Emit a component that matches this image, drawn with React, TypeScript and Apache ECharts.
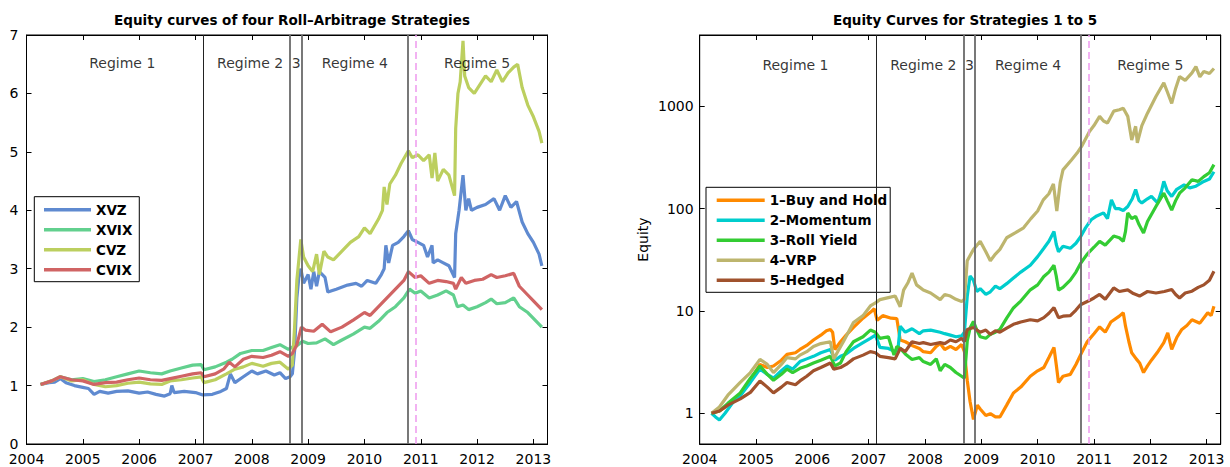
import React, { useEffect, useRef } from 'react';
import * as echarts from 'echarts';

// ---------- Left chart data: [year, equity] ----------
const xvzData: [number, number][] = [[2004.25,1.02],[2004.4,1.05],[2004.5,1.06],[2004.6,1.12],[2004.7,1.05],[2004.85,1.0],[2005.0,0.97],[2005.1,0.95],[2005.2,0.85],[2005.3,0.9],[2005.45,0.87],[2005.6,0.9],[2005.8,0.91],[2006.0,0.87],[2006.15,0.89],[2006.3,0.85],[2006.45,0.82],[2006.55,0.86],[2006.58,1.0],[2006.62,0.88],[2006.8,0.9],[2007.0,0.88],[2007.13,0.84],[2007.3,0.85],[2007.45,0.9],[2007.55,0.95],[2007.62,1.2],[2007.7,1.05],[2007.85,1.15],[2008.0,1.25],[2008.1,1.2],[2008.25,1.25],[2008.4,1.18],[2008.5,1.22],[2008.6,1.12],[2008.68,1.15],[2008.72,1.2],[2008.76,1.6],[2008.8,2.5],[2008.84,2.9],[2008.87,3.0],[2008.92,2.75],[2009.0,2.9],[2009.05,2.65],[2009.1,2.95],[2009.15,2.7],[2009.2,2.95],[2009.3,2.85],[2009.35,2.6],[2009.5,2.65],[2009.7,2.72],[2009.85,2.75],[2009.95,2.7],[2010.05,2.8],[2010.2,2.75],[2010.3,2.9],[2010.35,3.0],[2010.38,3.4],[2010.43,3.1],[2010.5,3.4],[2010.6,3.45],[2010.7,3.55],[2010.78,3.65],[2010.85,3.5],[2010.95,3.45],[2011.05,3.4],[2011.12,3.2],[2011.2,3.4],[2011.22,3.1],[2011.3,3.15],[2011.4,3.1],[2011.5,3.05],[2011.6,2.85],[2011.62,3.6],[2011.68,4.0],[2011.75,4.6],[2011.8,4.0],[2011.85,4.2],[2011.9,4.0],[2012.0,4.05],[2012.15,4.1],[2012.3,4.2],[2012.4,4.0],[2012.5,4.25],[2012.6,4.05],[2012.7,4.15],[2012.8,3.8],[2012.9,3.6],[2013.0,3.45],[2013.1,3.25],[2013.15,3.05]];

const xvixData: [number, number][] = [[2004.25,1.02],[2004.45,1.08],[2004.6,1.15],[2004.8,1.1],[2005.0,1.12],[2005.2,1.07],[2005.4,1.1],[2005.6,1.15],[2005.8,1.2],[2006.0,1.25],[2006.2,1.22],[2006.4,1.2],[2006.55,1.25],[2006.75,1.3],[2006.95,1.35],[2007.1,1.36],[2007.15,1.27],[2007.35,1.32],[2007.55,1.4],[2007.65,1.45],[2007.8,1.55],[2008.0,1.6],[2008.2,1.6],[2008.35,1.65],[2008.5,1.7],[2008.65,1.62],[2008.72,1.66],[2008.8,1.68],[2008.9,1.76],[2009.0,1.72],[2009.15,1.73],[2009.3,1.8],[2009.45,1.7],[2009.6,1.78],[2009.8,1.88],[2010.0,2.0],[2010.1,1.98],[2010.25,2.1],[2010.4,2.25],[2010.55,2.35],[2010.7,2.5],[2010.8,2.65],[2010.9,2.58],[2011.0,2.62],[2011.15,2.5],[2011.3,2.55],[2011.45,2.62],[2011.58,2.55],[2011.65,2.35],[2011.75,2.38],[2011.85,2.3],[2012.0,2.35],[2012.15,2.42],[2012.25,2.48],[2012.35,2.4],[2012.5,2.42],[2012.65,2.5],[2012.75,2.35],[2012.9,2.25],[2013.0,2.15],[2013.15,2.0]];

const cvzData: [number, number][] = [[2004.25,1.02],[2004.45,1.08],[2004.6,1.15],[2004.8,1.08],[2005.0,1.1],[2005.2,1.02],[2005.4,0.98],[2005.6,1.0],[2005.8,1.04],[2006.0,1.06],[2006.2,1.03],[2006.4,1.02],[2006.55,1.08],[2006.75,1.1],[2006.95,1.13],[2007.1,1.15],[2007.15,1.05],[2007.35,1.1],[2007.55,1.2],[2007.7,1.28],[2007.85,1.32],[2008.0,1.38],[2008.2,1.33],[2008.35,1.38],[2008.5,1.4],[2008.65,1.28],[2008.72,1.35],[2008.76,2.0],[2008.8,2.8],[2008.84,3.2],[2008.87,3.5],[2008.92,3.2],[2009.0,3.05],[2009.08,2.95],[2009.15,3.25],[2009.2,2.9],[2009.28,3.3],[2009.35,3.2],[2009.45,3.15],[2009.6,3.3],[2009.75,3.45],[2009.9,3.55],[2010.0,3.7],[2010.1,3.6],[2010.25,3.85],[2010.32,4.0],[2010.35,4.4],[2010.4,4.1],[2010.45,4.45],[2010.55,4.6],[2010.65,4.8],[2010.78,5.02],[2010.85,4.9],[2010.95,4.95],[2011.05,4.85],[2011.15,4.95],[2011.2,4.55],[2011.25,4.98],[2011.3,4.5],[2011.4,4.7],[2011.5,4.6],[2011.6,4.25],[2011.62,5.4],[2011.66,6.0],[2011.7,6.2],[2011.75,6.9],[2011.78,6.3],[2011.85,6.1],[2011.95,6.0],[2012.05,6.15],[2012.15,6.3],[2012.25,6.2],[2012.35,6.4],[2012.45,6.2],[2012.55,6.35],[2012.65,6.45],[2012.72,6.5],[2012.8,6.1],[2012.9,5.8],[2013.0,5.6],[2013.1,5.35],[2013.15,5.15]];

const cvixData: [number, number][] = [[2004.25,1.02],[2004.45,1.08],[2004.6,1.15],[2004.8,1.1],[2005.0,1.08],[2005.2,1.02],[2005.4,1.05],[2005.6,1.06],[2005.8,1.1],[2006.0,1.13],[2006.2,1.1],[2006.4,1.09],[2006.55,1.12],[2006.75,1.16],[2006.95,1.2],[2007.1,1.22],[2007.15,1.15],[2007.35,1.2],[2007.5,1.28],[2007.6,1.4],[2007.7,1.32],[2007.85,1.45],[2008.0,1.5],[2008.2,1.48],[2008.35,1.52],[2008.5,1.58],[2008.65,1.5],[2008.72,1.55],[2008.8,1.7],[2008.88,2.0],[2008.95,1.95],[2009.1,1.93],[2009.25,2.05],[2009.4,1.92],[2009.6,2.0],[2009.8,2.12],[2010.0,2.25],[2010.1,2.2],[2010.25,2.35],[2010.4,2.5],[2010.55,2.65],[2010.7,2.8],[2010.78,2.95],[2010.9,2.85],[2011.0,2.88],[2011.15,2.75],[2011.3,2.8],[2011.45,2.78],[2011.58,2.75],[2011.62,2.65],[2011.72,2.85],[2011.8,2.75],[2011.95,2.8],[2012.1,2.82],[2012.25,2.9],[2012.35,2.85],[2012.5,2.88],[2012.65,2.92],[2012.75,2.7],[2012.9,2.55],[2013.0,2.45],[2013.15,2.3]];

// ---------- Right chart data: [year, equity] ----------
const buyHoldData: [number, number][] = [[2004.21,1.0],[2004.35,1.05],[2004.5,1.2],[2004.72,1.5],[2004.9,2.1],[2005.07,3.0],[2005.2,2.8],[2005.31,2.9],[2005.45,3.3],[2005.55,3.76],[2005.7,3.9],[2005.78,4.2],[2005.9,4.6],[2006.02,5.2],[2006.15,5.8],[2006.25,6.4],[2006.32,6.6],[2006.36,6.2],[2006.4,4.2],[2006.5,5.0],[2006.6,5.8],[2006.73,6.9],[2006.9,8.5],[2007.03,9.7],[2007.1,10.5],[2007.15,8.1],[2007.25,9.0],[2007.4,8.5],[2007.5,8.4],[2007.56,5.2],[2007.65,5.0],[2007.77,4.6],[2007.9,4.3],[2007.97,4.0],[2008.1,3.9],[2008.2,4.5],[2008.27,4.8],[2008.35,4.2],[2008.45,4.5],[2008.55,4.2],[2008.65,4.7],[2008.7,4.0],[2008.75,2.1],[2008.8,1.3],[2008.86,0.87],[2008.93,1.2],[2008.98,1.1],[2009.08,0.95],[2009.16,0.99],[2009.25,0.92],[2009.33,0.92],[2009.45,1.2],[2009.57,1.58],[2009.7,1.8],[2009.87,2.3],[2010.0,2.6],[2010.11,2.8],[2010.2,3.5],[2010.29,4.4],[2010.33,3.0],[2010.37,2.0],[2010.45,2.3],[2010.58,2.4],[2010.68,3.0],[2010.76,3.7],[2010.88,5.0],[2011.0,6.0],[2011.1,7.0],[2011.2,6.2],[2011.3,7.8],[2011.45,8.9],[2011.52,9.6],[2011.56,7.1],[2011.62,5.0],[2011.67,3.9],[2011.75,3.4],[2011.81,3.1],[2011.88,2.5],[2011.95,2.9],[2012.02,3.3],[2012.12,3.9],[2012.24,4.9],[2012.31,6.1],[2012.38,4.2],[2012.47,5.5],[2012.56,6.6],[2012.65,7.2],[2012.74,8.2],[2012.88,7.6],[2013.02,9.6],[2013.08,9.0],[2013.13,11.1]];

const momentumData: [number, number][] = [[2004.21,1.0],[2004.28,0.92],[2004.35,0.86],[2004.45,1.0],[2004.6,1.3],[2004.72,1.48],[2004.9,2.0],[2005.07,2.7],[2005.2,2.4],[2005.31,2.2],[2005.45,2.6],[2005.55,2.9],[2005.65,2.7],[2005.78,3.2],[2005.9,3.4],[2006.02,3.6],[2006.15,3.9],[2006.32,4.2],[2006.4,3.3],[2006.5,3.6],[2006.6,3.8],[2006.73,4.3],[2006.9,4.9],[2007.03,5.4],[2007.12,5.8],[2007.2,4.4],[2007.35,4.3],[2007.47,4.0],[2007.52,4.2],[2007.56,7.1],[2007.65,6.2],[2007.77,6.7],[2007.9,6.0],[2007.97,6.4],[2008.1,6.5],[2008.27,6.2],[2008.35,6.0],[2008.45,5.8],[2008.55,5.6],[2008.65,5.7],[2008.7,6.2],[2008.73,10],[2008.75,13.9],[2008.8,22],[2008.86,20],[2008.92,15.5],[2008.98,16.5],[2009.08,14.5],[2009.16,15.4],[2009.25,17.5],[2009.33,16.5],[2009.45,18.5],[2009.57,21],[2009.7,24],[2009.87,28],[2010.0,34],[2010.11,41],[2010.2,48],[2010.29,60],[2010.33,45],[2010.37,38],[2010.45,43],[2010.58,41],[2010.68,46],[2010.76,53],[2010.85,65],[2010.95,78],[2011.05,85],[2011.17,91],[2011.24,80],[2011.31,122],[2011.38,100],[2011.45,100],[2011.52,96],[2011.6,105],[2011.68,125],[2011.74,154],[2011.8,120],[2011.85,114],[2011.95,125],[2012.02,132],[2012.13,114],[2012.2,150],[2012.24,185],[2012.3,150],[2012.38,132],[2012.47,155],[2012.6,171],[2012.7,160],[2012.81,166],[2012.95,185],[2013.05,195],[2013.13,230]];

const rollYieldData: [number, number][] = [[2004.21,1.0],[2004.35,1.05],[2004.5,1.25],[2004.72,1.58],[2004.9,2.2],[2005.07,2.9],[2005.2,2.4],[2005.31,2.1],[2005.45,2.4],[2005.55,2.7],[2005.65,2.5],[2005.78,2.75],[2005.9,2.9],[2006.02,3.1],[2006.15,3.3],[2006.32,3.6],[2006.4,2.9],[2006.5,3.1],[2006.6,4.0],[2006.73,5.0],[2006.9,5.6],[2007.03,6.5],[2007.12,6.2],[2007.2,5.4],[2007.35,5.6],[2007.45,3.7],[2007.5,4.5],[2007.56,4.3],[2007.65,3.8],[2007.77,3.35],[2007.9,3.5],[2007.97,3.2],[2008.1,3.0],[2008.2,3.4],[2008.27,2.6],[2008.35,3.0],[2008.45,2.8],[2008.55,2.5],[2008.65,2.3],[2008.7,2.2],[2008.75,5.1],[2008.8,6.8],[2008.86,7.9],[2008.92,6.5],[2008.98,5.6],[2009.08,5.4],[2009.16,5.9],[2009.25,6.2],[2009.33,6.6],[2009.45,8.5],[2009.57,10.7],[2009.7,12.5],[2009.87,16.1],[2010.0,18],[2010.11,21.7],[2010.2,24],[2010.29,28],[2010.33,22],[2010.37,16],[2010.45,17],[2010.58,20],[2010.68,24],[2010.76,29],[2010.88,36],[2011.0,42],[2011.1,48],[2011.2,44],[2011.35,54],[2011.45,52],[2011.52,48],[2011.56,60],[2011.6,91],[2011.67,80],[2011.74,84],[2011.8,70],[2011.88,58],[2011.95,75],[2012.1,105],[2012.24,142],[2012.3,120],[2012.38,97],[2012.45,120],[2012.52,142],[2012.62,160],[2012.74,192],[2012.85,185],[2012.95,206],[2013.05,225],[2013.13,270]];

const vrpData: [number, number][] = [[2004.21,1.0],[2004.35,1.15],[2004.5,1.5],[2004.72,2.0],[2004.9,2.5],[2005.07,3.36],[2005.2,3.0],[2005.31,2.5],[2005.45,3.0],[2005.55,3.5],[2005.7,3.4],[2005.78,3.7],[2005.9,4.0],[2006.02,4.5],[2006.15,4.8],[2006.32,5.0],[2006.38,3.4],[2006.45,4.0],[2006.55,5.0],[2006.73,7.7],[2006.9,9.0],[2007.03,11.2],[2007.12,12.0],[2007.2,12.9],[2007.35,13.5],[2007.47,14],[2007.56,11],[2007.62,16],[2007.7,19],[2007.77,23.5],[2007.85,18],[2007.97,16],[2008.1,15],[2008.27,12.9],[2008.35,14.5],[2008.45,14],[2008.55,13],[2008.65,12.4],[2008.7,13],[2008.75,31],[2008.86,40],[2008.98,48],[2009.08,38],[2009.16,31],[2009.25,36],[2009.33,40],[2009.45,52],[2009.6,58],[2009.75,65],[2009.88,80],[2010.0,95],[2010.1,122],[2010.2,140],[2010.28,175],[2010.34,95],[2010.4,180],[2010.45,240],[2010.6,300],[2010.7,350],[2010.78,407],[2010.92,570],[2011.0,650],[2011.1,800],[2011.17,720],[2011.24,690],[2011.35,900],[2011.45,930],[2011.52,960],[2011.6,800],[2011.67,470],[2011.74,640],[2011.77,440],[2011.85,650],[2011.95,860],[2012.1,1250],[2012.24,1700],[2012.3,1400],[2012.38,1070],[2012.45,1500],[2012.52,1960],[2012.62,1800],[2012.74,2130],[2012.81,2450],[2012.88,1950],[2012.95,2200],[2013.05,2100],[2013.13,2350]];

const hedgedData: [number, number][] = [[2004.21,1.0],[2004.35,1.05],[2004.5,1.2],[2004.72,1.38],[2004.9,1.6],[2005.07,2.07],[2005.2,1.8],[2005.31,1.58],[2005.45,1.8],[2005.55,2.0],[2005.7,1.9],[2005.78,2.07],[2005.9,2.3],[2006.02,2.6],[2006.15,2.8],[2006.32,3.1],[2006.38,2.7],[2006.5,2.8],[2006.6,3.0],[2006.73,3.4],[2006.9,3.7],[2007.03,4.0],[2007.12,3.9],[2007.2,3.6],[2007.35,3.5],[2007.47,3.4],[2007.56,4.3],[2007.65,4.0],[2007.77,5.0],[2007.9,4.8],[2007.97,4.9],[2008.1,4.7],[2008.27,4.9],[2008.35,4.8],[2008.45,5.2],[2008.55,5.0],[2008.65,5.4],[2008.7,5.0],[2008.75,6.6],[2008.86,6.9],[2008.98,6.2],[2009.08,6.5],[2009.16,5.9],[2009.25,6.4],[2009.33,6.2],[2009.45,6.8],[2009.57,7.4],[2009.7,7.8],[2009.87,8.2],[2010.0,8.0],[2010.11,8.6],[2010.2,9.5],[2010.29,10.8],[2010.37,8.6],[2010.45,8.9],[2010.58,9.0],[2010.68,10.2],[2010.76,11.5],[2010.9,12.5],[2011.0,13.4],[2011.1,14.5],[2011.2,13.0],[2011.35,16.8],[2011.45,15.5],[2011.6,16.1],[2011.7,14.8],[2011.81,14.0],[2011.95,15.5],[2012.1,15.0],[2012.25,15.5],[2012.38,16.2],[2012.45,14.5],[2012.52,13.4],[2012.62,15.0],[2012.74,15.6],[2012.85,17],[2012.95,18],[2013.05,20],[2013.13,24.5]];

// ---------- Annotations ----------
const regimeNames = ['Regime 1', 'Regime 2', '3', 'Regime 4', 'Regime 5'];
const regimeLabelYears = [2005.70, 2007.97, 2008.79, 2009.83, 2012.0];
const regimeLabelLevelLeft = 6.52;
const regimeLabelLevelRight = 2540;
const regimeBoundaries = [2007.13, 2008.68, 2008.88, 2010.77];
const dashedMarker = 2010.91;

const leftNames = ['XVZ', 'XVIX', 'CVZ', 'CVIX'];
const leftColors = ['#5f8ad0', '#62d08e', '#bccf5f', '#d06464'];
const rightNames = ['1\u2013Buy and Hold', '2\u2013Momentum', '3\u2013Roll Yield', '4\u2013VRP', '5\u2013Hedged'];
const rightColors = ['#ff8a00', '#00cdcd', '#33cc33', '#bdb56e', '#a0522d'];

const leftYTicks = [0, 7, 1]; // min, max, interval
const rightYRange = [0.5, 5000];
const xRange = [2004, 2013.25];

const FONT = 'DejaVu Sans';

export default function App() {
  const ref = useRef<HTMLDivElement>(null);

  useEffect(() => {
    const chart = echarts.init(ref.current!, null, { renderer: 'svg' });

    const gridL = { left: 26.5, top: 35, width: 521, height: 409 };
    const gridR = { left: 699.7, top: 35, width: 521, height: 409 };

    const tick = { show: true, inside: true, length: 5, lineStyle: { color: '#000', width: 1 } };
    const axLine = { show: true, onZero: false, lineStyle: { color: '#000', width: 1 } };
    const lbl = { color: '#000', fontFamily: FONT, fontSize: 14 };

    const yearFmt = (v: number) => (Math.abs(v - Math.round(v)) < 1e-6 ? String(Math.round(v)) : '');

    const xAxisDef = (gridIndex: number, top: boolean) => ({
      type: 'value', gridIndex, position: top ? 'top' : 'bottom',
      min: xRange[0], max: xRange[1], interval: 1,
      axisLine: axLine, axisTick: tick, splitLine: { show: false },
      axisLabel: { show: !top, ...lbl, margin: 8, formatter: yearFmt },
    });

    const logFmt = (v: number) => {
      const l = Math.log10(v);
      return Math.abs(l - Math.round(l)) < 1e-6 && v >= 1 ? String(Math.round(v)) : '';
    };

    const yAxes = [
      { type: 'value', gridIndex: 0, position: 'left', min: leftYTicks[0], max: leftYTicks[1], interval: leftYTicks[2],
        axisLine: axLine, axisTick: tick, splitLine: { show: false }, axisLabel: { ...lbl, margin: 8 } },
      { type: 'value', gridIndex: 0, position: 'right', min: leftYTicks[0], max: leftYTicks[1], interval: leftYTicks[2],
        axisLine: axLine, axisTick: tick, splitLine: { show: false }, axisLabel: { show: false } },
      { type: 'log', logBase: 10, gridIndex: 1, position: 'left', min: rightYRange[0], max: rightYRange[1],
        name: 'Equity', nameLocation: 'middle', nameGap: 50,
        nameTextStyle: { color: '#000', fontFamily: FONT, fontSize: 14 },
        axisLine: axLine, axisTick: tick, splitLine: { show: false }, minorTick: { show: false },
        axisLabel: { ...lbl, margin: 6, formatter: logFmt } },
      { type: 'log', logBase: 10, gridIndex: 1, position: 'right', min: rightYRange[0], max: rightYRange[1],
        axisLine: axLine, axisTick: tick, splitLine: { show: false }, axisLabel: { show: false } },
    ];

    const lineSeries = (name: string, data: [number, number][], color: string, xi: number, yi: number) => ({
      type: 'line', name, data, xAxisIndex: xi, yAxisIndex: yi, showSymbol: false, symbol: 'none',
      color, lineStyle: { color, width: 3.2 }, z: 2, silent: true,
    });

    const markLines = {
      silent: true, symbol: ['none', 'none'], label: { show: false },
      data: [
        ...regimeBoundaries.map((x, i) => ({
          xAxis: x,
          lineStyle: i === 0 ? { color: '#222', width: 1, type: 'solid' } : { color: '#6a6a6a', width: 1.8, type: 'solid' },
        })),
        { xAxis: dashedMarker, lineStyle: { color: '#ee99ee', width: 1.5, type: [7, 4] } },
      ],
    };

    const regimeSeries = (xi: number, yi: number, level: number) => ({
      type: 'scatter', xAxisIndex: xi, yAxisIndex: yi, symbolSize: 0, silent: true, z: 5,
      data: regimeNames.map((n, i) => ({ name: n, value: [regimeLabelYears[i], level] })),
      label: { show: true, position: 'inside', formatter: '{b}', color: '#000', fontFamily: FONT, fontSize: 14 },
      markLine: markLines,
    });

    const leftData = [xvzData, xvixData, cvzData, cvixData];
    const rightData = [buyHoldData, momentumData, rollYieldData, vrpData, hedgedData];

    const legendBase = {
      orient: 'vertical', icon: 'rect', itemHeight: 3.5, itemGap: 6, selectedMode: false,
      borderColor: '#000', borderWidth: 1, backgroundColor: '#fff', borderRadius: 0,
      textStyle: { color: '#000', fontFamily: FONT, fontWeight: 'bold', fontSize: 13.5, lineHeight: 14 },
    };

    chart.setOption({
      animation: false,
      backgroundColor: '#fff',
      title: [
        { text: 'Equity curves of four Roll\u2013Arbitrage Strategies', left: 287, top: 8, textAlign: 'center',
          textStyle: { fontFamily: FONT, fontWeight: 'bold', fontSize: 13.5, color: '#000' } },
        { text: 'Equity Curves for Strategies 1 to 5', left: 960, top: 8, textAlign: 'center',
          textStyle: { fontFamily: FONT, fontWeight: 'bold', fontSize: 13.5, color: '#000' } },
      ],
      grid: [
        { ...gridL, show: true, borderColor: '#000', borderWidth: 1, backgroundColor: 'transparent' },
        { ...gridR, show: true, borderColor: '#000', borderWidth: 1, backgroundColor: 'transparent' },
      ],
      xAxis: [xAxisDef(0, false), xAxisDef(0, true), xAxisDef(1, false), xAxisDef(1, true)],
      yAxis: yAxes,
      legend: [
        { ...legendBase, data: leftNames, left: 34.3, top: 196.7, padding: [6, 7, 5, 9.7], itemWidth: 47 },
        { ...legendBase, data: rightNames, left: 706, top: 187.3, padding: [6, 3, 5, 10.7], itemWidth: 48 },
      ],
      series: [
        ...leftNames.map((n, i) => lineSeries(n, leftData[i], leftColors[i], 0, 0)),
        ...rightNames.map((n, i) => lineSeries(n, rightData[i], rightColors[i], 2, 2)),
        regimeSeries(0, 0, regimeLabelLevelLeft),
        regimeSeries(2, 2, regimeLabelLevelRight),
      ],
    });

    return () => chart.dispose();
  }, []);

  return (
    <div
      ref={ref}
      style={{ position: 'fixed', left: 0, top: 0, width: 1230, height: 467, background: '#fff' }}
    />
  );
}
